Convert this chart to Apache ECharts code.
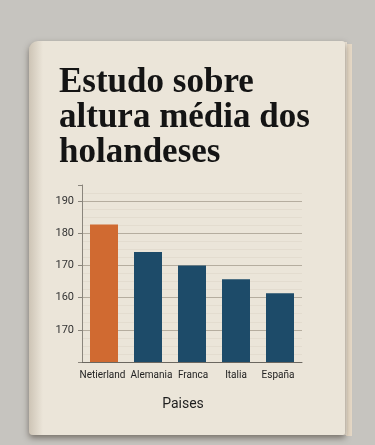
<!DOCTYPE html>
<html>
<head>
<meta charset="utf-8">
<script src="https://cdn.jsdelivr.net/npm/echarts@6/dist/echarts.min.js"></script>
<style>
html,body{margin:0;padding:0;background:#c6c4bf;}
#chart{width:375px;height:445px;}
</style>
</head>
<body>
<div id="chart"></div>
<script>
// Data
var titleLines = ["Estudo sobre", "altura média dos", "holandeses"];
var categories = ["Netierland", "Alemania", "Franca", "Italia", "España"];
var heights = [182.7, 174.2, 170.0, 165.7, 161.4];
var barColors = ["#d06a31", "#1d4b69", "#1d4b69", "#1d4b69", "#1d4b69"];
var yTickValues = [150, 160, 170, 180, 190];
var yTickLabels = ["170", "160", "170", "180", "190"];
var xAxisName = "Paises";

// label nudges (style only, not data)
var labelPad = [[0, 3, 0, 0], [0, 0, 0, 7], [0, 0, 0, 2], [0, 0, 0, 0], [0, 4, 0, 0]];

var chart = echarts.init(document.getElementById('chart'), null, {renderer: 'canvas'});
var option = {
  backgroundColor: '#c6c4bf',
  animation: false,
  title: {
    text: titleLines.join('\n'),
    left: 54,
    top: 60,
    textStyle: {
      fontFamily: 'Liberation Serif',
      fontWeight: 'bold',
      fontSize: 35,
      lineHeight: 35,
      color: '#141414'
    }
  },
  graphic: [
    {type: 'rect', z: -10, shape: {x: 346, y: 44, width: 6, height: 392}, style: {fill: '#e6d9c6'}},
    {type: 'rect', z: -10, shape: {x: 343, y: 42, width: 4, height: 393}, style: {fill: '#efe6d8'}},
    {type: 'rect', z: -9, shape: {x: 29, y: 41, width: 316, height: 394, r: [9, 3, 2, 4]},
      style: {fill: '#ebe5d9', shadowBlur: 6, shadowColor: 'rgba(40,30,20,0.5)', shadowOffsetY: 3}},
    {type: 'rect', z: -8, shape: {x: 29, y: 41, width: 14, height: 394, r: [9, 0, 0, 4]},
      style: {fill: new echarts.graphic.LinearGradient(0, 0, 1, 0, [
        {offset: 0, color: 'rgba(150,135,115,0.35)'},
        {offset: 1, color: 'rgba(150,135,115,0)'}])}}
  ],
  grid: {left: 82, top: 185, width: 220, height: 177, containLabel: false},
  xAxis: {
    type: 'category',
    data: categories.map(function (c, i) {
      return {value: c, textStyle: {padding: labelPad[i]}};
    }),
    name: xAxisName,
    nameLocation: 'middle',
    nameGap: 35,
    nameTextStyle: {fontFamily: 'Roboto', fontSize: 14, color: '#1e1e1e', padding: [0, 18, 0, 0]},
    axisLine: {lineStyle: {color: '#6b6760', width: 1}},
    axisTick: {show: false},
    axisLabel: {fontFamily: 'Roboto', fontSize: 10, color: '#222', margin: 8, interval: 0}
  },
  yAxis: {
    type: 'value',
    min: 140,
    max: 195,
    interval: 10,
    axisLine: {show: true, lineStyle: {color: '#8a857c', width: 1}},
    axisTick: {show: true, length: 4, lineStyle: {color: '#8a857c'}},
    axisLabel: {
      fontFamily: 'Roboto', fontSize: 11, color: '#333', margin: 8,
      formatter: function (v) {
        var i = yTickValues.indexOf(v);
        return i >= 0 ? yTickLabels[i] : '';
      }
    },
    splitLine: {show: true, showMaxLine: false, lineStyle: {color: '#b5ad9f', width: 1}},
    minorTick: {show: false, splitNumber: 4},
    minorSplitLine: {show: true, lineStyle: {color: '#e3dccf', width: 1}}
  },
  series: [{
    type: 'bar',
    barWidth: 28,
    data: heights.map(function (h, i) {
      return {value: h, itemStyle: {color: barColors[i]}};
    })
  }]
};
chart.setOption(option);
</script>
</body>
</html>
